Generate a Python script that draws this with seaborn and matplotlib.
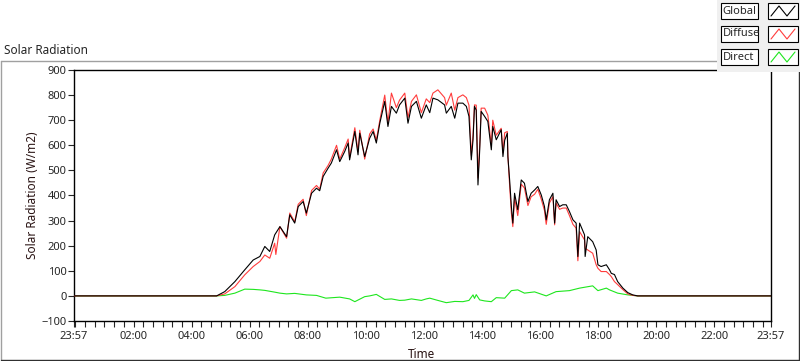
import numpy as np
import pandas as pd
import matplotlib
matplotlib.use("Agg")
import matplotlib.pyplot as plt
from matplotlib.patches import Rectangle
from matplotlib.lines import Line2D
import seaborn as sns

# hours since midnight (23:57 of the previous day = -0.05)
global_t = [-0.05, 4.86, 5.14, 5.49, 5.83, 6.12, 6.35, 6.52, 6.69, 6.86, 7.04, 7.27, 7.38, 7.55, 7.67,
            7.84, 7.95, 8.13, 8.30, 8.41, 8.53, 8.70, 8.81, 8.99, 9.10, 9.27, 9.39, 9.44, 9.62, 9.73,
            9.79, 9.96, 10.13, 10.25, 10.36, 10.48, 10.65, 10.76, 10.88, 11.05, 11.16, 11.34, 11.45,
            11.57, 11.74, 11.91, 12.08, 12.20, 12.31, 12.48, 12.71, 12.77, 12.94, 13.06, 13.17, 13.34,
            13.46, 13.55, 13.63, 13.69, 13.74, 13.80, 13.86, 13.92, 13.97, 14.09, 14.20, 14.32, 14.37,
            14.49, 14.66, 14.72, 14.78, 14.87, 14.89, 14.95, 15.01, 15.06, 15.12, 15.23, 15.35, 15.46,
            15.58, 15.69, 15.81, 15.92, 16.04, 16.15, 16.21, 16.32, 16.44, 16.50, 16.55, 16.67, 16.78,
            16.90, 17.01, 17.13, 17.24, 17.30, 17.36, 17.53, 17.55, 17.64, 17.81, 17.93, 17.99, 18.10,
            18.28, 18.39, 18.45, 18.56, 18.67, 18.85, 19.02, 19.19, 19.36, 23.95]
global_v = [0, 0, 17, 57, 104, 143, 157, 197, 177, 243, 276, 236, 323, 290, 356,
            376, 330, 409, 429, 419, 476, 509, 529, 582, 535, 575, 609, 542, 655, 562,
            648, 555, 628, 655, 609, 688, 775, 675, 755, 728, 761, 788, 688,
            755, 775, 708, 761, 730, 788, 781, 761, 728, 755, 708, 768, 768,
            755, 715, 542, 622, 755, 740, 442, 582, 735, 715, 695, 582, 675,
            622, 662, 555, 620, 648, 555, 462, 356, 290, 409, 343, 462, 449,
            376, 409, 422, 436, 402, 356, 303, 383, 409, 290, 383, 356, 363,
            363, 336, 303, 290, 157, 290, 243, 157, 236, 216, 183, 124, 117,
            124, 104, 90, 85, 57, 31, 13, 4, 0, 0]

diffuse_t = [-0.05, 4.86, 5.14, 5.49, 5.83, 6.12, 6.35, 6.52, 6.69, 6.86, 6.90, 7.04, 7.27, 7.38, 7.55,
             7.67, 7.84, 7.95, 8.13, 8.30, 8.41, 8.53, 8.70, 8.81, 8.99, 9.10, 9.27, 9.39, 9.44, 9.62,
             9.73, 9.79, 9.96, 10.13, 10.25, 10.36, 10.48, 10.65, 10.76, 10.88, 11.05, 11.16, 11.34,
             11.45, 11.57, 11.74, 11.91, 12.08, 12.20, 12.31, 12.48, 12.71, 12.77, 12.94, 13.06, 13.17,
             13.34, 13.46, 13.55, 13.63, 13.69, 13.74, 13.80, 13.86, 13.92, 13.97, 14.09, 14.20, 14.32,
             14.37, 14.49, 14.66, 14.72, 14.78, 14.87, 14.89, 14.95, 15.01, 15.06, 15.12, 15.23, 15.35,
             15.46, 15.58, 15.69, 15.81, 15.92, 16.04, 16.15, 16.21, 16.32, 16.44, 16.50, 16.55, 16.67,
             16.78, 16.90, 17.01, 17.13, 17.24, 17.30, 17.36, 17.53, 17.55, 17.64, 17.81, 17.93, 17.99,
             18.10, 18.28, 18.39, 18.45, 18.56, 18.67, 18.85, 19.02, 19.19, 19.36, 23.95]
diffuse_v = [0, 0, 8, 37, 84, 117, 137, 163, 150, 210, 165, 276, 230, 330, 295,
             365, 385, 320, 420, 440, 425, 490, 520, 545, 600, 545, 590, 625, 550, 670,
             575, 660, 545, 645, 665, 620, 700, 800, 690, 808, 750, 780, 808,
             710, 775, 801, 730, 785, 770, 808, 821, 790, 760, 808, 740, 790,
             801, 790, 760, 560, 640, 761, 760, 470, 600, 748, 748, 720, 600,
             700, 640, 668, 570, 650, 655, 560, 440, 330, 276, 390, 320, 445,
             430, 360, 395, 405, 425, 385, 340, 285, 370, 395, 283, 370, 345,
             350, 350, 320, 285, 270, 140, 256, 223, 190, 183, 170, 124, 110,
             97, 97, 85, 77, 57, 45, 25, 8, 2, 0, 0]

direct_t = [-0.05, 4.86, 5.14, 5.49, 5.83, 6.12, 6.35, 6.52, 6.86, 7.04, 7.27, 7.55, 7.95, 8.30,
            8.62, 9.10, 9.44, 9.62, 9.96, 10.13, 10.36, 10.65, 10.88, 11.16, 11.34, 11.57, 11.91,
            12.08, 12.20, 12.48, 12.77, 13.06, 13.34, 13.55, 13.69, 13.74, 13.80, 13.92, 14.09,
            14.32, 14.49, 14.78, 15.01, 15.23, 15.46, 15.81, 16.21, 16.55, 17.01, 17.36, 17.81,
            17.99, 18.28, 18.39, 18.67, 19.02, 19.36, 23.95]
direct_v = [0, 0, 2, 11, 27, 26, 24, 22, 15, 11, 8, 10, 4, 2,
            -9, -5, -12, -23, -3, 0, 6, -14, -12, -18, -17, -12, -18,
            -12, -9, -18, -27, -22, -23, -18, 4, -10, 5, -16, -20,
            -23, -7, -9, 21, 24, 11, 16, 0, 17, 21, 31, 40,
            21, 31, 24, 11, 4, 0, 0]

tick_pos = [-0.05, 2, 4, 6, 8, 10, 12, 14, 16, 18, 20, 22, 23.95]
tick_lab = ["23:57", "02:00", "04:00", "06:00", "08:00", "10:00", "12:00",
            "14:00", "16:00", "18:00", "20:00", "22:00", "23:57"]

series = [("Direct", direct_t, direct_v, "#1ee61e"),
          ("Diffuse", diffuse_t, diffuse_v, "#ff3c3c"),
          ("Global", global_t, global_v, "black")]

sns.set_style("white")
plt.rcParams['font.family'] = ['Noto Sans', 'DejaVu Sans']

W, H = 800, 361
fig = plt.figure(figsize=(8, 3.61), dpi=100)
fig.patch.set_facecolor("white")


def fx(x):
    return x / W


def fy(y):
    return 1 - y / H


ax = fig.add_axes([fx(74), fy(321), (771 - 74) / W, (321 - 70) / H])
for i, (name, t, v, col) in enumerate(series):
    d = pd.DataFrame({"t": t, "v": v})
    sns.lineplot(data=d, x="t", y="v", ax=ax, color=col, lw=0.8,
                 estimator=None, sort=False, zorder=2 + i)

ax.set_xlim(-0.05, 23.95)
ax.set_ylim(-100, 900)
ax.set_yticks(range(-100, 901, 100))
ax.set_xticks(tick_pos)
ax.set_xticklabels(tick_lab)
ax.set_xticks(np.arange(0, 23.9, 1 / 3), minor=True)
ax.set_xlabel("")
ax.set_ylabel("")
ax.tick_params(axis="y", direction="out", length=4, width=0.8, pad=1.5, labelsize=8, left=True)
ax.tick_params(axis="x", which="both", direction="out", length=4.5, width=0.8, pad=3,
               labelsize=8, bottom=True)
for s in ax.spines.values():
    s.set_color("black")
    s.set_linewidth(1.0)
ax.set_facecolor("white")

# outer frame of the graph
fig.add_artist(Line2D([fx(0.5), fx(0.5)], [fy(61), fy(360)], transform=fig.transFigure, color="#a0a0a0", lw=1))
fig.add_artist(Line2D([fx(0.5), fx(799)], [fy(61), fy(61)], transform=fig.transFigure, color="#a0a0a0", lw=1))
fig.add_artist(Line2D([fx(0.5), fx(799)], [fy(360), fy(360)], transform=fig.transFigure, color="#303030", lw=1))
fig.add_artist(Line2D([fx(799), fx(799)], [fy(61), fy(360)], transform=fig.transFigure, color="#303030", lw=1))

fig.text(fx(4), fy(51), "Solar Radiation", ha="left", va="center", fontsize=8.5)
fig.text(fx(33), fy(195), "Solar Radiation (W/m2)", rotation=90, ha="center", va="center",
         fontsize=8.5, color="#2a1414")
fig.text(fx(422), fy(354), "Time", ha="center", va="center", fontsize=8.5, color="#2a1414")

# legend panel
fig.add_artist(Rectangle((fx(717), fy(72)), (800 - 717) / W, 72 / H, transform=fig.transFigure,
                         facecolor="#f0f0f0", edgecolor="none", zorder=10))
for k, (name, col) in enumerate([("Global", "black"), ("Diffuse", "#ff3c3c"), ("Direct", "#1ee61e")]):
    top = 3 + 23 * k
    fig.add_artist(Rectangle((fx(721), fy(top + 16)), 37 / W, 16 / H, transform=fig.transFigure,
                             facecolor="white", edgecolor="black", lw=0.8, zorder=11))
    t = fig.text(fx(722.5), fy(top + 8), name, ha="left", va="center", fontsize=8)
    t.set_zorder(12)
    fig.add_artist(Rectangle((fx(768), fy(top + 16)), 30 / W, 16 / H, transform=fig.transFigure,
                             facecolor="white", edgecolor="black", lw=0.8, zorder=11))
    zx = [771, 779, 787, 795]
    zy = [top + 13, top + 3, top + 13, top + 3]
    fig.add_artist(Line2D([fx(a) for a in zx], [fy(b) for b in zy], transform=fig.transFigure,
                          color=col, lw=0.8, zorder=12))

fig.savefig("out.png", dpi=100, facecolor="white")
